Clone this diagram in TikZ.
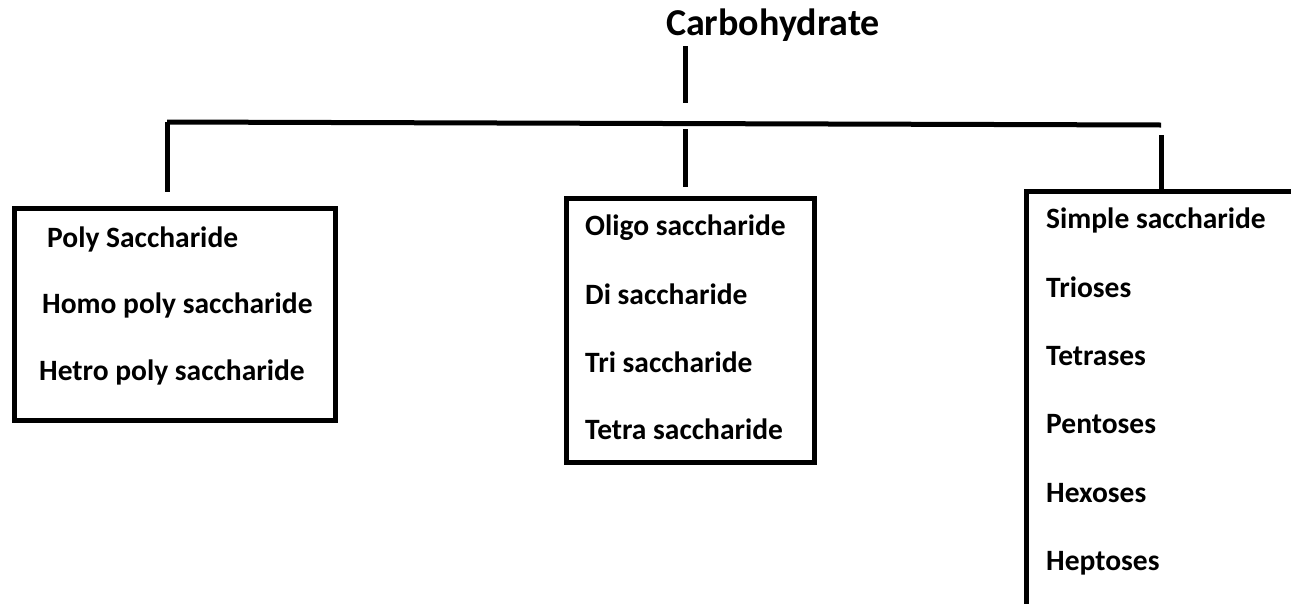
\documentclass[tikz,border=0pt]{standalone}
\usepackage{fontspec}
\setmainfont{Carlito}
\begin{document}
\begin{tikzpicture}[x=1pt,y=-1pt,
  conn/.style={line width=5pt},
  box/.style={draw,line width=4.5pt,rectangle,inner sep=0pt,anchor=north west},
  item/.style={anchor=base west,inner sep=0pt,font=\fontsize{29.5}{34}\selectfont\bfseries},
  titlestyle/.style={anchor=base,inner sep=0pt,font=\fontsize{38}{44}\selectfont\bfseries}]
\useasboundingbox (0,0) rectangle (1291,603);
\clip (0,0) rectangle (1291,603);
% title
\node[titlestyle] (title) at (773,35) {Carbohydrate};
% boxes
\node[box,minimum width=321pt,minimum height=212pt] (polybox) at (12,206) {};
\node[box,minimum width=248pt,minimum height=264pt] (oligobox) at (564,196) {};
\node[box,minimum width=320pt,minimum height=460pt] (simplebox) at (1024,189) {};
% connector points
\coordinate (t1) at (685,46);
\coordinate (t2) at (685,103);
\coordinate (barL) at (167,122);
\coordinate (barR) at (1161,125);
\coordinate (dL) at (167,192);
\coordinate (mT) at (685,129);
\coordinate (mB) at (685,187);
\coordinate (rT) at (1161,135);
\coordinate (rB) at (1161,189);
\draw[conn] (t1) -- (t2);
\draw[conn] (barL) -- (barR);
\draw[conn] (barL) -- (dL);
\draw[conn] (mT) -- (mB);
\draw[conn] (rT) -- (rB);
% left texts
\node[item] (p1) at (47,247) {Poly Saccharide};
\node[item] (p2) at (42,313) {Homo poly saccharide};
\node[item] (p3) at (39,380) {Hetro poly saccharide};
% middle texts
\node[item] (o1) at (585,235) {Oligo saccharide};
\node[item] (o2) at (585,304) {Di saccharide};
\node[item] (o3) at (585,372) {Tri saccharide};
\node[item] (o4) at (585,439) {Tetra saccharide};
% right texts
\node[item] (s1) at (1046,228) {Simple saccharide};
\node[item] (s2) at (1046,297) {Trioses};
\node[item] (s3) at (1046,365) {Tetrases};
\node[item] (s4) at (1046,433) {Pentoses};
\node[item] (s5) at (1046,502) {Hexoses};
\node[item] (s6) at (1046,570) {Heptoses};
\end{tikzpicture}
\end{document}
